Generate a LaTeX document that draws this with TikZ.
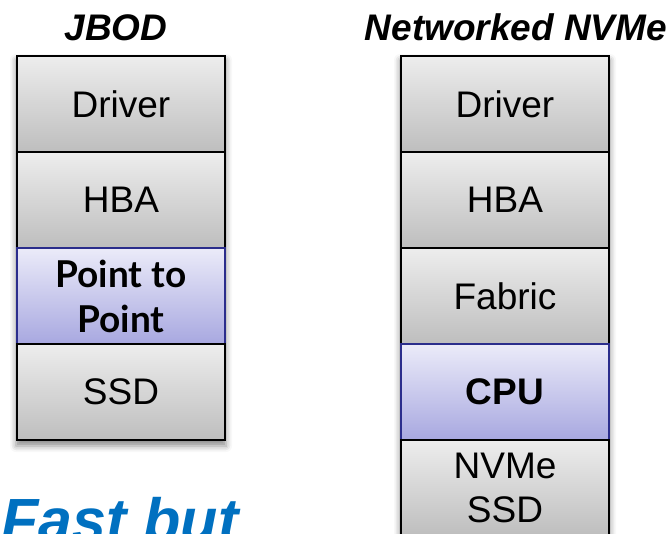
\documentclass[tikz,border=0pt]{standalone}
\usepackage{fontspec}
\setmainfont{Liberation Sans}
\newfontfamily\humanist{Lato}
\usetikzlibrary{shadows.blur,backgrounds}
\definecolor{graytop}{HTML}{EDEDED}
\definecolor{graybot}{HTML}{BEBEBE}
\definecolor{lavtop}{HTML}{EBEBF9}
\definecolor{lavbot}{HTML}{A8A8E0}
\definecolor{lavedge}{HTML}{2B2D8C}
\definecolor{calloutblue}{HTML}{0070C0}
\tikzset{
  layer/.style={rectangle, draw=black, line width=2pt, minimum width=208pt,
    minimum height=96pt, inner sep=0pt, top color=graytop, bottom color=graybot,
    font=\fontsize{37}{42}\selectfont, align=center},
  hilite/.style={layer, draw=lavedge, top color=lavtop, bottom color=lavbot},
  heading/.style={font=\fontsize{37}{40}\selectfont\bfseries\itshape, anchor=base},
  colshadow/.style={blur shadow={shadow xshift=0pt, shadow yshift=-5pt,
    shadow blur radius=6pt, shadow opacity=45}}
}
\begin{document}
\begin{tikzpicture}[x=1pt,y=-1pt]
\useasboundingbox (0,0) rectangle (669,533);
% headings
\node[heading] (hj) at (116,40) {JBOD};
\node[heading] (hn) at (516,40) {Networked NVMe};
% JBOD stack
\node[layer] (jdrv) at (121,104) {Driver};
\node[layer] (jhba) at (121,200) {HBA};
\node[hilite, font=\fontsize{37}{45}\selectfont\humanist\bfseries] (jp2p) at (121,296) {Point to\\Point};
\node[layer] (jssd) at (121,392) {SSD};
% Networked NVMe stack
\node[layer] (ndrv) at (505,104) {Driver};
\node[layer] (nhba) at (505,200) {HBA};
\node[layer] (nfab) at (505,296) {Fabric};
\node[hilite, font=\fontsize{37}{42}\selectfont\bfseries] (ncpu) at (505,392) {CPU};
\node[layer, font=\fontsize{37}{44}\selectfont] (nssd) at (505,488) {NVMe\\SSD};
% soft shadows behind each stack
\begin{scope}[on background layer]
  \path[colshadow, fill=white] (jdrv.north west) rectangle (jssd.south east);
  \path[colshadow, fill=white] (ndrv.north west) rectangle (nssd.south east);
\end{scope}
% callout
\node[font=\fontsize{61}{64}\selectfont\bfseries\itshape, text=calloutblue, anchor=base west, inner sep=0pt] (fast) at (1,541) {Fast but};
\end{tikzpicture}
\end{document}
